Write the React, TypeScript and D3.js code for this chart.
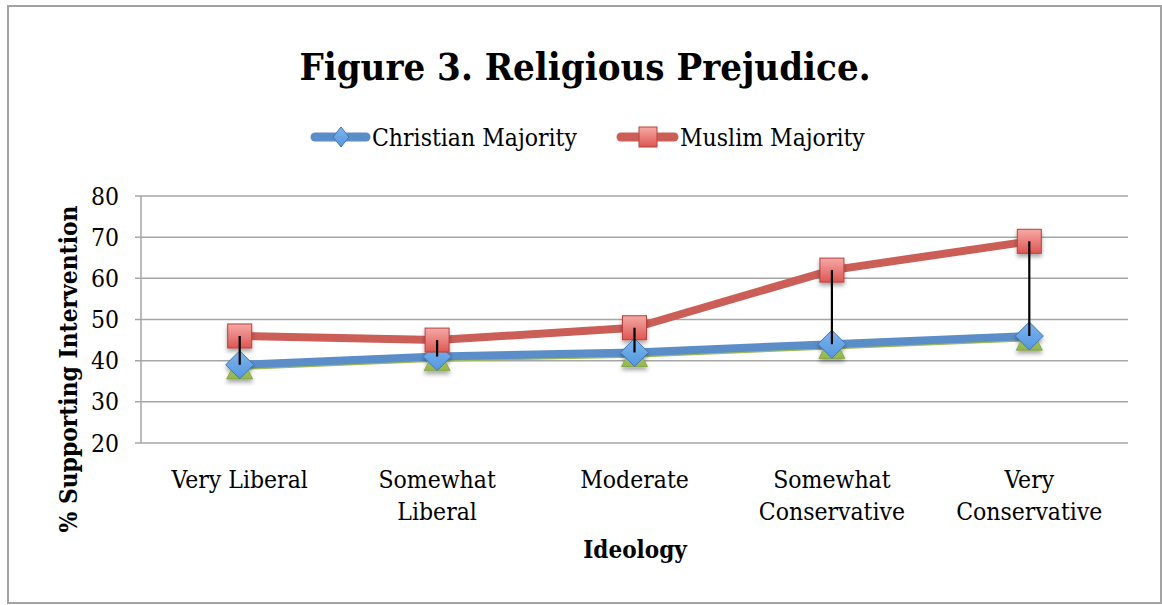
import React from "react";
import * as d3 from "d3";

// Survey results by self-reported ideology
const categories: string[][] = [
  ["Very Liberal"],
  ["Somewhat", "Liberal"],
  ["Moderate"],
  ["Somewhat", "Conservative"],
  ["Very", "Conservative"],
];
const christianMajority = [39, 41, 42, 44, 46];
const muslimMajority = [46, 45, 48, 62, 69];
// third (unlabelled) series sitting just under the Christian Majority line
const baseline = [38.7, 40.7, 41.7, 43.7, 45.7];
const yTicks = [20, 30, 40, 50, 60, 70, 80];

const W = 1162;
const H = 605;
const FONT = "'DejaVu Serif Condensed', 'Liberation Serif', serif";

export default function App() {
  const plot = { left: 141, right: 1128, top: 196, bottom: 443 };
  const x = d3
    .scalePoint<number>()
    .domain(categories.map((_, i) => i))
    .range([plot.left, plot.right])
    .padding(0.5);
  const y = d3.scaleLinear().domain([20, 80]).range([plot.bottom, plot.top]);

  const line = d3
    .line<number>()
    .x((_, i) => x(i)!)
    .y((d) => y(d));

  const sq = 24;
  const dm = 14;
  const tri = 13;
  const ly = 137;

  return (
    <svg
      width={W}
      height={H}
      style={{ position: "absolute", left: 0, top: 0, background: "#fff" }}
      fontFamily={FONT}
    >
      <defs>
        <linearGradient id="sqFill" x1="0" y1="0" x2="0" y2="1">
          <stop offset="0" stopColor="#F6A9A6" />
          <stop offset="1" stopColor="#DD5752" />
        </linearGradient>
        <linearGradient id="dmFill" x1="0" y1="0" x2="0" y2="1">
          <stop offset="0" stopColor="#7DB5EE" />
          <stop offset="1" stopColor="#5597DF" />
        </linearGradient>
        <linearGradient id="trFill" x1="0" y1="0" x2="0" y2="1">
          <stop offset="0" stopColor="#B4D36E" />
          <stop offset="1" stopColor="#93B64E" />
        </linearGradient>
        <filter id="shadow" x="-50%" y="-50%" width="200%" height="200%">
          <feDropShadow dx="0" dy="3" stdDeviation="2.2" floodColor="#000" floodOpacity="0.35" />
        </filter>
      </defs>

      <rect x={8} y={6} width={1153} height={597} fill="none" stroke="#A3A3A3" strokeWidth={2} />

      <text x={585} y={80} textAnchor="middle" fontWeight="bold" fontSize={38} fill="#000">
        Figure 3. Religious Prejudice.
      </text>

      {/* legend */}
      <g>
        <line x1={315} x2={366} y1={ly} y2={ly} stroke="#5B8EC8" strokeWidth={9} strokeLinecap="round" />
        <path
          d={`M341,${ly - 10}L${341 + 8},${ly}L341,${ly + 10}L${341 - 8},${ly}Z`}
          fill="url(#dmFill)"
          stroke="#4474B0"
          strokeWidth={1}
        />
        <text x={372} y={ly + 9} fontSize={24.5} fill="#000">Christian Majority</text>
        <line x1={621} x2={674} y1={ly} y2={ly} stroke="#CC5E58" strokeWidth={9} strokeLinecap="round" />
        <rect x={648 - 9} y={ly - 10} width={18} height={20} fill="url(#sqFill)" stroke="#B7403C" strokeWidth={1} />
        <text x={680} y={ly + 9} fontSize={24.5} fill="#000">Muslim Majority</text>
      </g>

      {/* gridlines */}
      {yTicks.map((t) => (
        <g key={t}>
          <line
            x1={plot.left - 6}
            x2={plot.right}
            y1={y(t)}
            y2={y(t)}
            stroke="#A6A6A6"
            strokeWidth={1.5}
          />
          <text x={119} y={y(t) + 8.5} textAnchor="end" fontSize={24.5} fill="#000">
            {t}
          </text>
        </g>
      ))}
      <line x1={plot.left} x2={plot.left} y1={plot.top} y2={plot.bottom} stroke="#A6A6A6" strokeWidth={1.5} />

      {/* category labels */}
      {categories.map((lines, i) => (
        <text key={i} x={x(i)} y={488} textAnchor="middle" fontSize={24.5} fill="#000">
          {lines.map((l, j) => (
            <tspan key={j} x={x(i)} dy={j === 0 ? 0 : 32}>
              {l}
            </tspan>
          ))}
        </text>
      ))}

      <text x={635} y={558} textAnchor="middle" fontWeight="bold" fontSize={24} fill="#000">
        Ideology
      </text>
      <text
        transform={`translate(77,369) rotate(-90)`}
        textAnchor="middle"
        fontWeight="bold"
        fontSize={24.3}
        fill="#000"
      >
        % Supporting Intervention
      </text>

      {/* series lines */}
      <path d={line(baseline)!} fill="none" stroke="#9BBB59" strokeWidth={8} strokeLinejoin="round" />
      <path d={line(christianMajority)!} fill="none" stroke="#5B8EC8" strokeWidth={8} strokeLinejoin="round" />
      <path d={line(muslimMajority)!} fill="none" stroke="#CC5E58" strokeWidth={8} strokeLinejoin="round" />

      {/* markers */}
      <g filter="url(#shadow)">
        {baseline.map((v, i) => (
          <path
            key={"t" + i}
            d={`M${x(i)},${y(v) - tri}L${x(i)! + tri},${y(v) + tri}L${x(i)! - tri},${y(v) + tri}Z`}
            fill="url(#trFill)"
            stroke="#7F9F42"
            strokeWidth={0.8}
          />
        ))}
        {christianMajority.map((v, i) => (
          <path
            key={"d" + i}
            d={`M${x(i)},${y(v) - dm}L${x(i)! + dm},${y(v)}L${x(i)},${y(v) + dm}L${x(i)! - dm},${y(v)}Z`}
            fill="url(#dmFill)"
            stroke="#4474B0"
            strokeWidth={1}
          />
        ))}
        {muslimMajority.map((v, i) => (
          <rect
            key={"s" + i}
            x={x(i)! - sq / 2}
            y={y(v) - sq / 2}
            width={sq}
            height={sq}
            fill="url(#sqFill)"
            stroke="#B7403C"
            strokeWidth={1}
          />
        ))}
      </g>

      {/* high-low lines */}
      {muslimMajority.map((v, i) => (
        <line
          key={"hl" + i}
          x1={x(i)}
          x2={x(i)}
          y1={y(v)}
          y2={y(christianMajority[i])}
          stroke="#000"
          strokeWidth={2.2}
        />
      ))}
    </svg>
  );
}
